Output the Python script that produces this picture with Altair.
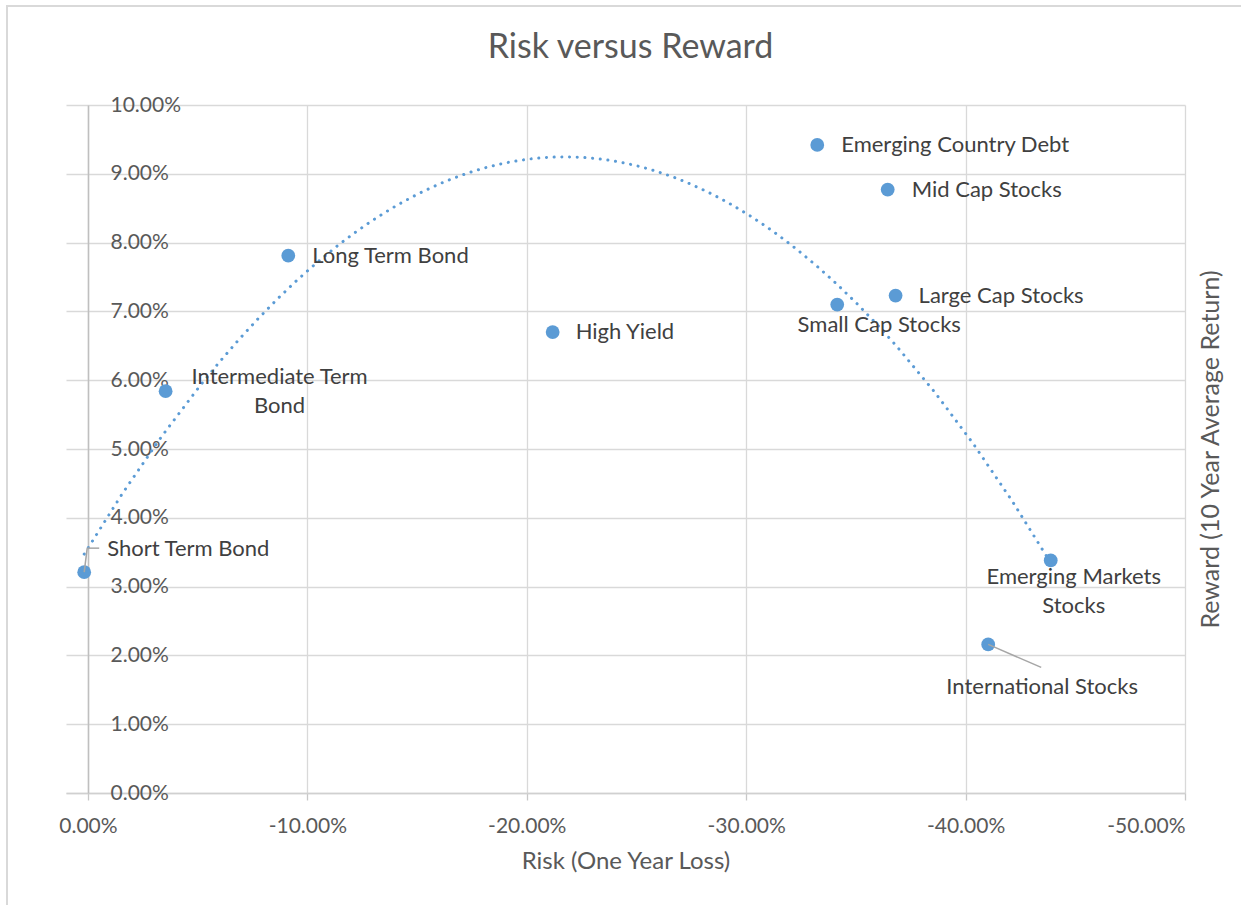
import altair as alt
import pandas as pd

# ---- data ----
names = ["Short Term Bond", "Intermediate Term Bond", "Long Term Bond", "High Yield",
         "Emerging Country Debt", "Mid Cap Stocks", "Small Cap Stocks", "Large Cap Stocks",
         "Emerging Markets Stocks", "International Stocks"]
risk = [0.0017, -0.0354, -0.0913, -0.2118, -0.3324, -0.3645, -0.3415, -0.3681, -0.4388, -0.4103]
reward = [0.0321, 0.0584, 0.0781, 0.0670, 0.0942, 0.0877, 0.0710, 0.0723, 0.0338, 0.0216]
label_text = ["Short Term Bond", "Intermediate Term\nBond", "Long Term Bond", "High Yield",
              "Emerging Country Debt", "Mid Cap Stocks", "Small Cap Stocks", "Large Cap Stocks",
              "Emerging Markets\nStocks", "International Stocks"]
x_ticks = [0, -0.1, -0.2, -0.3, -0.4, -0.5]
y_ticks = [0, 0.01, 0.02, 0.03, 0.04, 0.05, 0.06, 0.07, 0.08, 0.09, 0.10]

# label placement (pixel offsets from the point, alignment)
label_dx = [23, 114, 24, 23, 24, 24, 42, 23, 23, 54]
label_dy = [-23, -14, 0, 0, 0, 0, 20, 0, 17, 43]
label_align = ["left", "center", "left", "left", "left", "left", "center", "left", "center", "center"]

df = pd.DataFrame({"name": names, "risk": risk, "reward": reward, "label": label_text})

FONT = "Lato"
BLUE = "#5b9bd5"
GRID = "#d9d9d9"
TXT = "#595959"
LBL = "#404040"

W, H = 1119, 688

x_scale = alt.Scale(domain=[-0.5, 0.01], reverse=True, nice=False, zero=False)
y_scale = alt.Scale(domain=[0, 0.10], nice=False, zero=False)

pct_expr = "replace(format(datum.value, '.2%'), '\u2212', '-')"

x_axis = alt.Axis(values=x_ticks, labelExpr=pct_expr, title="Risk (One Year Loss)",
                  grid=True, gridColor=GRID, gridWidth=1.3,
                  domainColor="#d0d0d0", domainWidth=1.3,
                  tickColor="#c8c8c8", tickSize=7, tickWidth=1.3,
                  labelFont=FONT, labelFontSize=21, labelColor=TXT, labelPadding=15,
                  titleFont=FONT, titleFontSize=24, titleFontWeight="normal", titleColor=TXT,
                  titlePadding=13)

y_left = alt.Axis(orient="left", offset=-22, values=y_ticks, format=".2%", title=None,
                  grid=True, gridColor=GRID, gridWidth=1.3,
                  domain=True, domainColor="#bfbfbf", domainWidth=1.5,
                  ticks=False, tickSize=0, labelAlign="left", labelPadding=-22,
                  labelFont=FONT, labelFontSize=21, labelColor=TXT)

y_right = alt.Axis(orient="right", title="Reward (10 Year Average Return)", labels=False,
                   ticks=False, domain=False, grid=False, titleAngle=270, titleBaseline="middle",
                   titlePadding=25, titleFont=FONT, titleFontSize=25, titleFontWeight="normal",
                   titleColor=TXT)

base = alt.Chart(df)

X = alt.X("risk:Q", scale=x_scale, axis=x_axis)
Y = alt.Y("reward:Q", scale=y_scale, axis=None)

frame = alt.Chart(pd.DataFrame({"k": [0]})).mark_rect(
    fill=None, stroke=GRID, strokeWidth=2).encode(
    x=alt.value(-59), x2=alt.value(W + 200), y=alt.value(-99), y2=alt.value(H + 200))

trend = base.transform_regression("risk", "reward", method="poly", order=2).mark_line(
    color=BLUE, strokeWidth=3, strokeDash=[0.1, 7.6], strokeCap="round").encode(
    x=X, y=alt.Y("reward:Q", scale=y_scale, axis=y_right))

leaders = []
# Short Term Bond leader: diagonal + horizontal
leaders.append(base.transform_filter(alt.datum.name == "Short Term Bond").mark_rule(
    color="#a6a6a6", strokeWidth=1.5, x2Offset=3, y2Offset=-24).encode(
    x=X, y=Y, x2="risk:Q", y2="reward:Q"))
leaders.append(base.transform_filter(alt.datum.name == "Short Term Bond").mark_rule(
    color="#a6a6a6", strokeWidth=1.5, xOffset=3, yOffset=-24, x2Offset=15, y2Offset=-24).encode(
    x=X, y=Y, x2="risk:Q", y2="reward:Q"))
leaders.append(base.transform_filter(alt.datum.name == "International Stocks").mark_rule(
    color="#a6a6a6", strokeWidth=1.5, x2Offset=53, y2Offset=23).encode(
    x=X, y=Y, x2="risk:Q", y2="reward:Q"))

points = base.mark_circle(size=190, color=BLUE, opacity=1).encode(
    x=X, y=alt.Y("reward:Q", scale=y_scale, axis=y_left))

texts = []
for n, dx, dy, al in zip(names, label_dx, label_dy, label_align):
    texts.append(base.transform_filter(alt.datum.name == n).mark_text(
        font=FONT, fontSize=22, color=LBL, align=al, baseline="middle",
        dx=dx, dy=dy, lineBreak="\n", lineHeight=29).encode(
        x=X, y=Y, text="label:N"))

chart = alt.layer(points, trend, frame, *leaders, *texts).resolve_axis(y="independent").properties(
    width=W, height=H,
    autosize=alt.AutoSizeParams(type="none"),
    padding={"left": 66, "top": 105, "right": 56, "bottom": 112},
    title=alt.TitleParams("Risk versus Reward", font=FONT, fontSize=34, fontWeight="normal",
                          color=TXT, anchor="middle", baseline="alphabetic", offset=-87, dx=5),
    background="white",
).configure_view(stroke=None)

chart.save("out.html", embed_options={"renderer": "svg", "actions": False})
